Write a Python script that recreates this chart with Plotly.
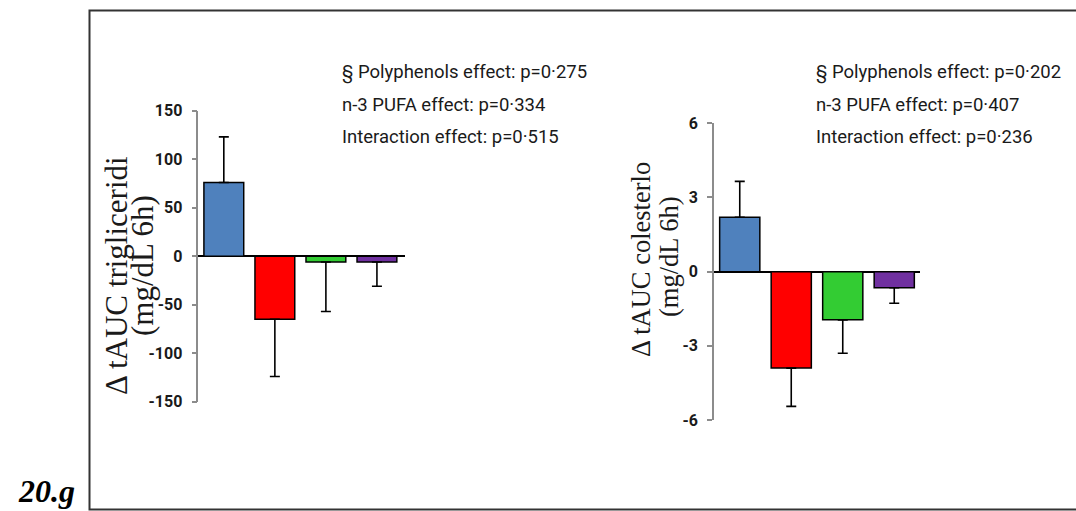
import plotly.graph_objects as go

W, H = 1076, 511

# Four treatment groups (same order in both panels)
groups = ["G1", "G2", "G3", "G4"]
bar_colors = ["#4F81BD", "#FF0000", "#33CC33", "#7030A0"]

# Panel A: delta tAUC triglycerides (mg/dL 6h)
trig_mean = [76, -65, -6, -6]
trig_err = [47, 59, 51, 25]

# Panel B: delta tAUC cholesterol (mg/dL 6h)
chol_mean = [2.2, -3.9, -1.95, -0.65]
chol_err = [1.45, 1.55, 1.35, 0.63]

trig_ticks = [150, 100, 50, 0, -50, -100, -150]
chol_ticks = [6, 3, 0, -3, -6]

trig_stats = ["§ Polyphenols effect: p=0·275",
              "n-3 PUFA effect: p=0·334",
              "Interaction effect: p=0·515"]
chol_stats = ["§ Polyphenols effect: p=0·202",
              "n-3 PUFA effect: p=0·407",
              "Interaction effect: p=0·236"]

SANS = "Roboto, 'Noto Sans', sans-serif"
SERIF = "'Liberation Serif', 'DejaVu Serif', serif"


def px_x(p):
    return p / W


def px_y(p):
    return 1 - p / H


def one_sided(means, errs):
    # error bar drawn only away from zero
    plus = [e if m >= 0 else 0 for m, e in zip(means, errs)]
    minus = [e if m < 0 else 0 for m, e in zip(means, errs)]
    return plus, minus


fig = go.Figure()

for means, errs, xa, ya in [(trig_mean, trig_err, "x", "y"),
                            (chol_mean, chol_err, "x2", "y2")]:
    plus, minus = one_sided(means, errs)
    fig.add_trace(go.Bar(
        x=groups, y=means, xaxis=xa, yaxis=ya,
        marker=dict(color=bar_colors, line=dict(color="#000000", width=1.5)),
        error_y=dict(type="data", symmetric=False, array=plus, arrayminus=minus,
                     color="#000000", thickness=1.6, width=5),
        showlegend=False, hoverinfo="skip",
    ))

axis_common = dict(showgrid=False, showline=False, ticks="", showticklabels=False,
                   zeroline=False, fixedrange=True)
yaxis_common = dict(showgrid=False, showline=True, linecolor="#8c8c8c", linewidth=1.5,
                    ticks="outside", ticklen=5, tickcolor="#8c8c8c", tickwidth=1.5,
                    zeroline=True, zerolinecolor="#000000", zerolinewidth=1.5,
                    tickfont=dict(family=SANS, size=16, color="#1a1a1a", weight="bold"),
                    ticklabelstandoff=6, fixedrange=True)

fig.update_layout(
    width=W, height=H,
    margin=dict(l=0, r=0, t=0, b=0, autoexpand=False),
    paper_bgcolor="white", plot_bgcolor="rgba(0,0,0,0)",
    bargap=0.22,
    xaxis=dict(domain=[px_x(198.3), px_x(405)], range=[-0.5, 3.55], anchor="y", **axis_common),
    yaxis=dict(domain=[px_y(401.7), px_y(110.7)], range=[-150, 150], anchor="x",
               tickvals=trig_ticks, ticktext=[str(t) for t in trig_ticks], **yaxis_common),
    xaxis2=dict(domain=[px_x(714), px_x(920)], range=[-0.5, 3.5], anchor="y2", **axis_common),
    yaxis2=dict(domain=[px_y(420), px_y(123.3)], range=[-6, 6], anchor="x2",
                tickvals=chol_ticks, ticktext=[str(t) for t in chol_ticks], **yaxis_common),
)

annotations = []
for lines, x0 in [(trig_stats, 340), (chol_stats, 814)]:
    for line, yc in zip(lines, [73, 105, 137]):
        annotations.append(dict(
            text=line, xref="paper", yref="paper", x=px_x(x0), y=px_y(yc),
            xanchor="left", yanchor="middle", showarrow=False,
            font=dict(family=SANS, size=18.5, color="#1a1a1a"),
        ))

# rotated axis titles, two lines each
for text, xc, yc, fs in [("Δ tAUC trigliceridi", 116, 276, 31), ("(mg/dL 6h)", 142, 266, 31),
                         ("Δ tAUC colesterlo", 641, 260, 26.5), ("(mg/dL 6h)", 669, 257, 26.5)]:
    annotations.append(dict(
        text=text, xref="paper", yref="paper", x=px_x(xc), y=px_y(yc),
        xanchor="center", yanchor="middle", textangle=-90, showarrow=False,
        font=dict(family=SERIF, size=fs, color="#1a1a1a"),
    ))

# figure number, bottom left
annotations.append(dict(
    text="<b><i>20.g</i></b>", xref="paper", yref="paper", x=px_x(16), y=0,
    xanchor="left", yanchor="bottom", showarrow=False,
    font=dict(family=SERIF, size=32, color="#000000"),
))
fig.update_layout(annotations=annotations)

# frame around the figure area
fig.add_shape(type="rect", xref="paper", yref="paper",
              x0=px_x(89.5), x1=px_x(1090), y0=px_y(509.5), y1=px_y(10.5),
              line=dict(color="#333333", width=2), fillcolor="rgba(0,0,0,0)", layer="below")

fig.write_html("out.html")
